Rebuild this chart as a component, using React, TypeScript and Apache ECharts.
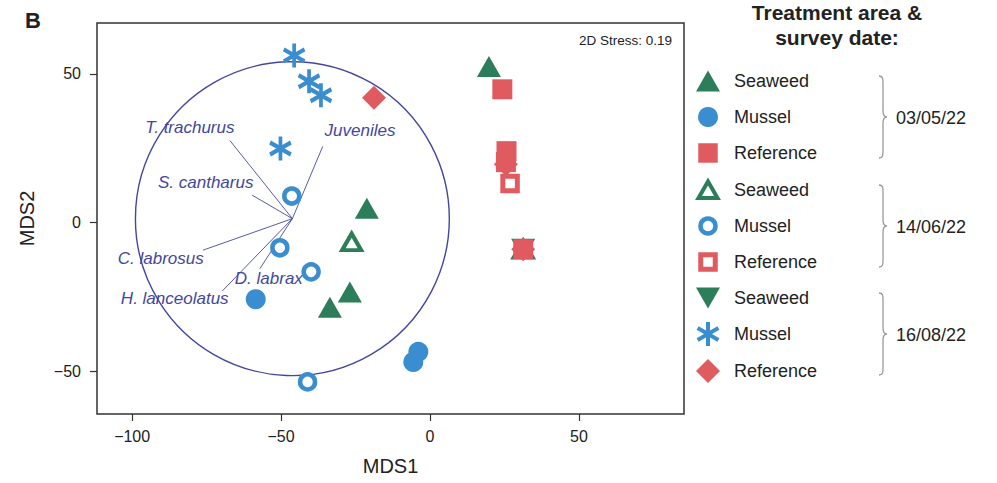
import React, { useEffect, useRef } from 'react';
import * as echarts from 'echarts';

// ---------- data (MDS coordinates) ----------
const seaweed0305 = [[19.8, 52.5], [-21.2, 4.8], [-26.9, -23.4], [-33.6, -28.5]];
const mussel0305 = [[-58.5, -25.8], [-3.9, -43.5], [-5.6, -46.9]];
const reference0305 = [[24.3, 44.8], [25.7, 24.0], [25.5, 20.3], [31.3, -9.0]];
const seaweed1406 = [[-26.3, -6.5], [31.3, -9.0]];
const mussel1406 = [[-46.4, 8.9], [-50.4, -8.5], [-39.9, -16.6], [-41.1, -53.6]];
const reference1406 = [[26.9, 13.1]];
const seaweed1608 = [[31.3, -9.0]];
const mussel1608 = [[-45.6, 56.2], [-40.6, 47.5], [-36.6, 42.8], [-50.2, 24.9]];
const reference1608 = [[-18.8, 42.0], [25.5, 19.6], [31.3, -9.0]];

// fitted vectors (species) and their circle
const vectorNames = ['T. trachurus', 'Juveniles', 'S. cantharus', 'C. labrosus', 'D. labrax', 'H. lanceolatus'];
const vectorEndX = [-67.2, -36.0, -59.7, -76.2, -57.1, -69.7];
const vectorEndY = [27.6, 25.6, 9.2, -9.3, -15.5, -23.0];
const vectorLabelX = [-80.6, -23.5, -75.3, -90.4, -54.1, -85.7];
const vectorLabelY = [32.0, 31.0, 13.5, -12.0, -18.7, -25.5];
const vectorOrigin = [-46.2, 1.3];
const circleRadius = 52.7;

const xTicks = [-100, -50, 0, 50];
const yTicks = [-50, 0, 50];
const xRange = [-111.8, 85.3];
const yRange = [-64.4, 67.1];

const legendLabels = ['Seaweed', 'Mussel', 'Reference', 'Seaweed', 'Mussel', 'Reference', 'Seaweed', 'Mussel', 'Reference'];
const surveyDates = ['03/05/22', '14/06/22', '16/08/22'];
const stressText = '2D Stress: 0.19';

// ---------- styles ----------
const GREEN = '#2c7d5a';
const BLUE = '#3a8dcf';
const RED = '#e05b60';
const INDIGO = '#4347a0';
const TEXT = '#222222';
const FONT = '"Liberation Sans", Arial, Helvetica, sans-serif';
const ASTERISK = 'path://M0,-12L0,12M-10.39,-6L10.39,6M-10.39,6L10.39,-6';

const BRACE_D = 'M0,0 C4,0 4,3 4,7 L4,35 C4,39 5,41 8,41 C5,41 4,43 4,47 L4,75 C4,79 4,82 0,82';
let braceRegistered = false;

function minus(v: number) {
  return v < 0 ? '\u2212' + Math.abs(v) : String(v);
}

function legendGraphics() {
  const els: any[] = [];
  const MX = 708;
  const ys = [81, 117, 153, 190, 226, 262, 298, 334, 371];
  ys.forEach((y, i) => {
    let m: any;
    switch (i) {
      case 0:
        m = { type: 'polygon', shape: { points: [[MX - 12, y + 10.5], [MX + 12, y + 10.5], [MX, y - 10.5]] }, style: { fill: GREEN } };
        break;
      case 1:
        m = { type: 'circle', shape: { cx: MX, cy: y, r: 10 }, style: { fill: BLUE } };
        break;
      case 2:
        m = { type: 'rect', shape: { x: MX - 9.75, y: y - 9.75, width: 19.5, height: 19.5 }, style: { fill: RED } };
        break;
      case 3:
        m = { type: 'polygon', shape: { points: [[MX - 9.5, y + 8], [MX + 9.5, y + 8], [MX, y - 8.5]] }, style: { fill: '#fff', stroke: GREEN, lineWidth: 4 } };
        break;
      case 4:
        m = { type: 'circle', shape: { cx: MX, cy: y, r: 7.5 }, style: { fill: '#fff', stroke: BLUE, lineWidth: 4.5 } };
        break;
      case 5:
        m = { type: 'rect', shape: { x: MX - 7.25, y: y - 7.25, width: 14.5, height: 14.5 }, style: { fill: '#fff', stroke: RED, lineWidth: 5 } };
        break;
      case 6:
        m = { type: 'polygon', shape: { points: [[MX - 12, y - 10.5], [MX + 12, y - 10.5], [MX, y + 10.5]] }, style: { fill: GREEN } };
        break;
      case 7:
        m = {
          type: 'group',
          children: [
            { type: 'line', shape: { x1: MX, y1: y - 12, x2: MX, y2: y + 12 }, style: { stroke: BLUE, lineWidth: 4 } },
            { type: 'line', shape: { x1: MX - 10.4, y1: y - 6, x2: MX + 10.4, y2: y + 6 }, style: { stroke: BLUE, lineWidth: 4 } },
            { type: 'line', shape: { x1: MX - 10.4, y1: y + 6, x2: MX + 10.4, y2: y - 6 }, style: { stroke: BLUE, lineWidth: 4 } },
          ],
        };
        break;
      default:
        m = { type: 'polygon', shape: { points: [[MX, y - 12], [MX + 12, y], [MX, y + 12], [MX - 12, y]] }, style: { fill: RED } };
    }
    els.push(m);
    els.push({
      type: 'text',
      x: 734,
      y,
      style: { text: legendLabels[i], fill: TEXT, font: `18px ${FONT}`, verticalAlign: 'middle', align: 'left' },
    });
  });
  const dateY = [117, 226, 334];
  dateY.forEach((y, i) => {
    els.push({ type: 'brace', x: 879, y: y - 41, style: { fill: 'none', stroke: '#9a9a9a', lineWidth: 1.3 } });
    els.push({
      type: 'text',
      x: 896,
      y: y + 1,
      style: { text: surveyDates[i], fill: TEXT, font: `18px ${FONT}`, verticalAlign: 'middle', align: 'left' },
    });
  });
  els.push({ type: 'text', x: 837, y: 12, style: { text: 'Treatment area &', fill: TEXT, font: `bold 21px ${FONT}`, align: 'center', verticalAlign: 'middle' } });
  els.push({ type: 'text', x: 837, y: 37, style: { text: 'survey date:', fill: TEXT, font: `bold 21px ${FONT}`, align: 'center', verticalAlign: 'middle' } });
  els.push({ type: 'text', x: 33, y: 20, style: { text: 'B', fill: TEXT, font: `bold 22px ${FONT}`, align: 'center', verticalAlign: 'middle' } });
  els.push({ type: 'text', x: 672, y: 40, style: { text: stressText, fill: TEXT, font: `13.5px ${FONT}`, align: 'right', verticalAlign: 'middle' } });
  return els;
}

function scatter(name: string, data: number[][], symbol: string, size: any, fill: string, stroke: string, bw: number, z = 3) {
  return {
    type: 'scatter',
    name,
    data,
    symbol,
    symbolSize: size,
    itemStyle: { color: fill, borderColor: stroke, borderWidth: bw, opacity: 1, borderJoin: 'miter' },
    emphasis: { disabled: true },
    silent: true,
    z,
  };
}

export default function App() {
  const ref = useRef<HTMLDivElement>(null);
  useEffect(() => {
    document.body.style.margin = '0';
    if (!braceRegistered) {
      echarts.graphic.registerShape('brace', echarts.graphic.extendPath(BRACE_D, {}));
      braceRegistered = true;
    }
    const chart = echarts.init(ref.current!, undefined, { renderer: 'svg' });
    const vectorData = vectorNames.map((_, i) => [vectorEndX[i], vectorEndY[i], vectorLabelX[i], vectorLabelY[i]]);
    chart.setOption({
      animation: false,
      textStyle: { fontFamily: FONT },
      grid: { left: 97, right: 313, top: 23, bottom: 69, show: true, borderColor: '#333', borderWidth: 1.5, backgroundColor: 'transparent' },
      xAxis: {
        type: 'value',
        min: xRange[0],
        max: xRange[1],
        axisLine: { show: false, onZero: false },
        splitLine: { show: false },
        axisTick: { show: true, length: 7, lineStyle: { color: '#333', width: 1.2 }, customValues: xTicks },
        axisLabel: { customValues: xTicks, formatter: (v: number) => minus(v), fontSize: 16, color: TEXT, margin: 14, fontFamily: FONT },
        name: 'MDS1',
        nameLocation: 'middle',
        nameGap: 42,
        nameTextStyle: { fontSize: 20, color: TEXT, fontFamily: FONT },
      },
      yAxis: {
        type: 'value',
        min: yRange[0],
        max: yRange[1],
        axisLine: { show: false, onZero: false },
        splitLine: { show: false },
        axisTick: { show: true, length: 7, lineStyle: { color: '#333', width: 1.2 }, customValues: yTicks },
        axisLabel: { customValues: yTicks, formatter: (v: number) => minus(v), fontSize: 16, color: TEXT, margin: 16, fontFamily: FONT },
        name: 'MDS2',
        nameLocation: 'middle',
        nameRotate: 90,
        nameGap: 60,
        nameTextStyle: { fontSize: 20, color: TEXT, fontFamily: FONT },
      },
      graphic: legendGraphics(),
      series: [
        {
          type: 'custom',
          name: 'circle',
          silent: true,
          z: 1,
          data: [[vectorOrigin[0], vectorOrigin[1], circleRadius]],
          renderItem: (params: any, api: any) => {
            const c = api.coord([api.value(0), api.value(1)]);
            const r = api.size([api.value(2), 0])[0];
            return { type: 'circle', shape: { cx: c[0], cy: c[1], r }, style: { fill: 'none', stroke: INDIGO, lineWidth: 1.4 } };
          },
        },
        {
          type: 'custom',
          name: 'vectors',
          silent: true,
          z: 2,
          data: vectorData,
          renderItem: (params: any, api: any) => {
            const o = api.coord([vectorOrigin[0], vectorOrigin[1]]);
            const e = api.coord([api.value(0), api.value(1)]);
            const l = api.coord([api.value(2), api.value(3)]);
            return {
              type: 'group',
              children: [
                { type: 'line', shape: { x1: o[0], y1: o[1], x2: e[0], y2: e[1] }, style: { stroke: INDIGO, lineWidth: 0.9 } },
                {
                  type: 'text',
                  x: l[0],
                  y: l[1],
                  style: { text: vectorNames[params.dataIndex], fill: INDIGO, font: `italic 17px ${FONT}`, align: 'center', verticalAlign: 'middle' },
                },
              ],
            };
          },
        },
        scatter('Seaweed 03/05/22', seaweed0305, 'triangle', [24, 21], GREEN, GREEN, 0),
        scatter('Mussel 03/05/22', mussel0305, 'circle', 20, BLUE, BLUE, 0),
        scatter('Reference 03/05/22', reference0305, 'rect', 20, RED, RED, 0, 4),
        scatter('Seaweed 14/06/22', seaweed1406, 'triangle', [19, 16.5], '#fff', GREEN, 4),
        scatter('Mussel 14/06/22', mussel1406, 'circle', 15, '#fff', BLUE, 4.5),
        scatter('Reference 14/06/22', reference1406, 'rect', 14.5, '#fff', RED, 5, 4),
        { ...scatter('Seaweed 16/08/22', seaweed1608, 'triangle', [24, 21], GREEN, GREEN, 0), symbolRotate: 180 },
        scatter('Mussel 16/08/22', mussel1608, ASTERISK, [20.8, 24], BLUE, BLUE, 4),
        scatter('Reference 16/08/22', reference1608, 'diamond', 24, RED, RED, 0, 4),
      ],
    });
    return () => chart.dispose();
  }, []);
  return <div ref={ref} style={{ position: 'absolute', left: 0, top: 0, width: 997, height: 483 }} />;
}
